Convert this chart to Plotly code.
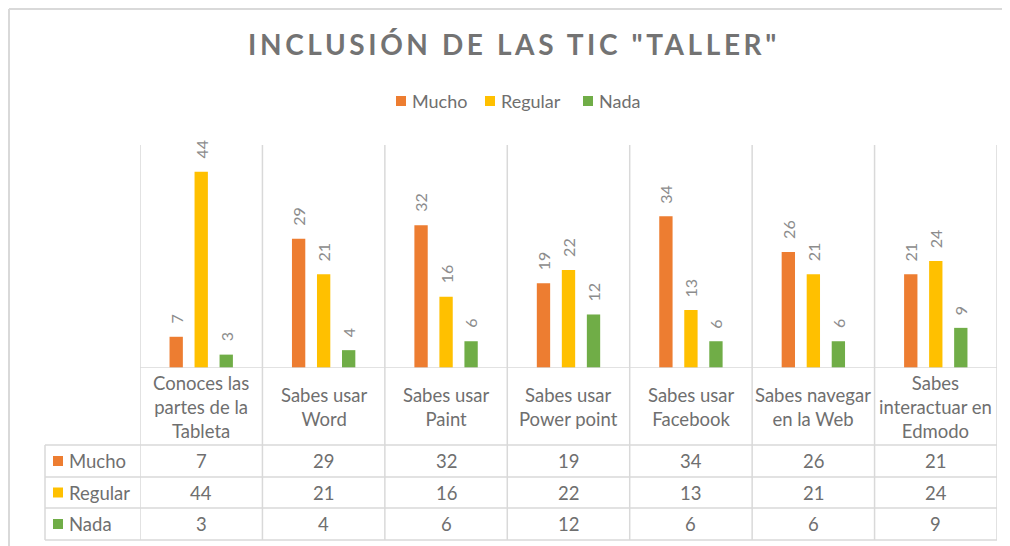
import plotly.graph_objects as go

# ---------------- data ----------------
categories = [
    "Conoces las<br>partes de la<br>Tableta",
    "Sabes usar<br>Word",
    "Sabes usar<br>Paint",
    "Sabes usar<br>Power point",
    "Sabes usar<br>Facebook",
    "Sabes navegar<br>en la Web",
    "Sabes<br>interactuar en<br>Edmodo",
]
series_names = ["Mucho", "Regular", "Nada"]
mucho = [7, 29, 32, 19, 34, 26, 21]
regular = [44, 21, 16, 22, 13, 21, 24]
nada = [3, 4, 6, 12, 6, 6, 9]
title_text = 'INCLUSIÓN DE LAS TIC "TALLER"'

# ---------------- style ----------------
colors = ["#ED7D31", "#FFC000", "#70AD47"]
OX, OY = 8, 8            # page body margin offset
W, H = 1002, 538
FONT = "Lato"
TXT = "#6f6f6f"
LBL = "#8c8c8c"
GRID = "#d9d9d9"
BARGAP = 0.387
GROUPGAP = 0.467


def px(x):
    return (x - OX) / W


def py(y):
    return 1 - (y - OY) / H


plot_l, plot_r, plot_t, plot_b = 140, 997, 145, 368
tbl_left = 45
row_lines = [445, 477, 508, 540]

values = [mucho, regular, nada]
n = len(categories)

fig = go.Figure()
for name, vals, col in zip(series_names, values, colors):
    fig.add_trace(go.Bar(
        x=categories, y=vals, name=name,
        marker=dict(color=col, line=dict(width=0)),
        hoverinfo="skip", showlegend=False,
    ))

shapes = []
# category separators (through the plot and the table)
for i in range(n + 1):
    shapes.append(dict(type="line", xref="x", yref="paper",
                       x0=i - 0.5, x1=i - 0.5, y0=py(row_lines[-1]), y1=py(plot_t),
                       line=dict(color=GRID, width=1.5)))
# baseline
shapes.append(dict(type="line", xref="paper", yref="y",
                   x0=px(plot_l), x1=px(plot_r), y0=0, y1=0,
                   line=dict(color=GRID, width=1.5)))
# table horizontal lines
for yl in row_lines:
    shapes.append(dict(type="line", xref="paper", yref="paper",
                       x0=px(tbl_left), x1=px(plot_r), y0=py(yl), y1=py(yl),
                       line=dict(color=GRID, width=1.5)))
# table left edge
shapes.append(dict(type="line", xref="paper", yref="paper",
                   x0=px(tbl_left), x1=px(tbl_left), y0=py(row_lines[0]), y1=py(row_lines[-1]),
                   line=dict(color=GRID, width=1.5)))
# outer chart border (top / left)
shapes.append(dict(type="line", xref="paper", yref="paper",
                   x0=px(9), x1=1, y0=py(9), y1=py(9),
                   line=dict(color=GRID, width=2)))
shapes.append(dict(type="line", xref="paper", yref="paper",
                   x0=px(9), x1=px(9), y0=0, y1=py(9),
                   line=dict(color=GRID, width=2)))

annotations = []
# legend (drawn manually, Excel style)
legend_x = [396, 485, 583]
legend_y = 101
for name, col, lx in zip(series_names, colors, legend_x):
    shapes.append(dict(type="rect", xref="paper", yref="paper",
                       x0=px(lx), x1=px(lx + 10), y0=py(legend_y + 5), y1=py(legend_y - 5),
                       fillcolor=col, line=dict(width=0)))
    annotations.append(dict(x=px(lx + 14), y=py(legend_y), xref="paper", yref="paper",
                            text=name, showarrow=False, xanchor="left", yanchor="middle",
                            font=dict(family=FONT, size=18, color=TXT)))
# header row: category names
for i, c in enumerate(categories):
    annotations.append(dict(x=i, y=py((plot_b + row_lines[0]) / 2), xref="x", yref="paper",
                            text=c, showarrow=False, xanchor="center", yanchor="middle",
                            font=dict(family=FONT, size=18.5, color=TXT)))
# table rows
for r, (name, vals, col) in enumerate(zip(series_names, values, colors)):
    yc = (row_lines[r] + row_lines[r + 1]) / 2
    shapes.append(dict(type="rect", xref="paper", yref="paper",
                       x0=px(53), x1=px(63), y0=py(yc + 5), y1=py(yc - 5),
                       fillcolor=col, line=dict(width=0)))
    annotations.append(dict(x=px(67), y=py(yc), xref="paper", yref="paper", text=name,
                            showarrow=False, xanchor="left", yanchor="middle",
                            font=dict(family=FONT, size=18.5, color=TXT)))
    for i, v in enumerate(vals):
        annotations.append(dict(x=i, y=py(yc), xref="x", yref="paper", text=str(v),
                                showarrow=False, xanchor="center", yanchor="middle",
                                font=dict(family=FONT, size=18.5, color=TXT)))
# rotated data labels above bars
slot = (1 - BARGAP) / len(series_names)
for k, vals in enumerate(values):
    off = (k - (len(series_names) - 1) / 2) * slot
    for i, v in enumerate(vals):
        annotations.append(dict(x=i + off, y=v, xref="x", yref="y", text=str(v),
                                showarrow=False, textangle=-90,
                                xanchor="center", yanchor="bottom", yshift=11,
                                font=dict(family=FONT, size=16, color=LBL)))

fig.update_layout(
    width=W, height=H,
    margin=dict(l=0, r=0, t=0, b=0),
    paper_bgcolor="white", plot_bgcolor="white",
    barmode="group", bargap=BARGAP, bargroupgap=GROUPGAP,
    title=dict(text='<span style="letter-spacing:3.6px">' + title_text + '</span>',
               x=px(514), xanchor="center", y=py(45), yanchor="middle",
               font=dict(family=FONT, size=28, color="#737373", weight="bold")),
    xaxis=dict(domain=[px(plot_l), px(plot_r)], range=[-0.5, n - 0.5], type="category",
               showticklabels=False, showgrid=False, zeroline=False, showline=False,
               ticks="", fixedrange=True),
    yaxis=dict(domain=[py(plot_b), py(plot_t)], range=[0, 50], visible=False,
               fixedrange=True),
    shapes=shapes,
    annotations=annotations,
    showlegend=False,
)

fig.write_html("out.html")
